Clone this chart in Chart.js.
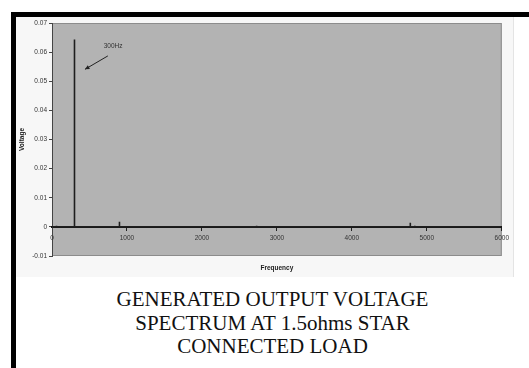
<!DOCTYPE html>
<html>
<head>
<meta charset="utf-8">
<script src="https://cdn.jsdelivr.net/npm/chart.js@4/dist/chart.umd.min.js"></script>
<style>
  html, body { margin: 0; padding: 0; background: #fff; width: 529px; height: 368px; overflow: hidden; }
  #topbar  { position: absolute; left: 11px; top: 12px; width: 518px; height: 5px; background: #000; }
  #leftbar { position: absolute; left: 11px; top: 12px; width: 5px; height: 356px; background: #000; }
  #panel   { position: absolute; left: 16px; top: 17px; width: 497px; height: 260px; background: #f7f7f7; border-right: 1px solid #e4e4e4; }
  #panel canvas { display: block; }
  #caption { position: absolute; left: 16px; width: 513px; top: 288px; text-align: center;
             font-family: "Liberation Serif", "Times New Roman", serif; font-size: 21px; line-height: 23.5px; color: #111; }
</style>
</head>
<body>
<div id="topbar"></div>
<div id="leftbar"></div>
<div id="panel"><canvas id="spectrum" width="497" height="260"></canvas></div>
<div id="caption">GENERATED OUTPUT VOLTAGE<br>SPECTRUM AT 1.5ohms STAR<br>CONNECTED LOAD</div>
<script>
// Harmonic components of the output voltage (Hz, V)
const frequencies = [60, 120, 180, 300, 600, 900, 2130, 2730, 3350, 4780, 4840];
const voltages    = [0.0004, 0.0003, 0.0003, 0.0643, 0.0003, 0.0018, 0.0002, 0.0004, 0.0002, 0.0014, 0.0004];

// Axis ranges and tick labels
const freqTicks = [0, 1000, 2000, 3000, 4000, 5000, 6000];
const voltTicks = [-0.01, 0, 0.01, 0.02, 0.03, 0.04, 0.05, 0.06, 0.07];
const voltTickLabels = ['-0.01', '0', '0.01', '0.02', '0.03', '0.04', '0.05', '0.06', '0.07'];

const xTitle = 'Frequency';
const yTitle = 'Voltage';
const peakLabel = '300Hz';

// Spectrum trace: baseline with a vertical stroke at each component
const trace = [{ x: freqTicks[0], y: 0 }];
frequencies.forEach((f, i) => {
  trace.push({ x: f, y: 0 }, { x: f, y: voltages[i] }, { x: f, y: 0 });
});
trace.push({ x: freqTicks[freqTicks.length - 1], y: 0 });

// Grey plot area with a thin frame
const plotBackground = {
  id: 'plotBackground',
  beforeDraw(chart) {
    const { ctx, chartArea: a } = chart;
    ctx.save();
    ctx.fillStyle = '#b3b3b3';
    ctx.fillRect(a.left, a.top, a.right - a.left, a.bottom - a.top);
    ctx.strokeStyle = '#8c8c8c';
    ctx.lineWidth = 1;
    ctx.strokeRect(a.left + 0.5, a.top + 0.5, a.right - a.left - 1, a.bottom - a.top - 1);
    ctx.restore();
  }
};

// Axis titles and the arrow pointing at the fundamental
const annotations = {
  id: 'annotations',
  afterDraw(chart) {
    const { ctx, chartArea: a, scales: { x, y } } = chart;
    ctx.save();
    ctx.fillStyle = '#222';
    ctx.font = 'bold 6.5px "Liberation Sans", Arial, sans-serif';
    ctx.textAlign = 'center';
    ctx.textBaseline = 'middle';
    ctx.fillText(xTitle, (a.left + a.right) / 2, a.bottom + 12);
    ctx.save();
    ctx.translate(6, (a.top + a.bottom) / 2);
    ctx.rotate(-Math.PI / 2);
    ctx.fillText(yTitle, 0, 0);
    ctx.restore();

    // arrow
    const x0 = x.getPixelForValue(745), y0 = y.getPixelForValue(0.0587);
    const x1 = x.getPixelForValue(440), y1 = y.getPixelForValue(0.0541);
    ctx.strokeStyle = '#222';
    ctx.lineWidth = 1;
    ctx.beginPath();
    ctx.moveTo(x0, y0);
    ctx.lineTo(x1, y1);
    ctx.stroke();
    const ang = Math.atan2(y1 - y0, x1 - x0);
    ctx.beginPath();
    ctx.moveTo(x1, y1);
    ctx.lineTo(x1 - 5 * Math.cos(ang - 0.45), y1 - 5 * Math.sin(ang - 0.45));
    ctx.lineTo(x1 - 5 * Math.cos(ang + 0.45), y1 - 5 * Math.sin(ang + 0.45));
    ctx.closePath();
    ctx.fill();

    ctx.font = '6.5px "Liberation Sans", Arial, sans-serif';
    ctx.fillStyle = '#333';
    ctx.fillText(peakLabel, x.getPixelForValue(815), y.getPixelForValue(0.0620));
    ctx.restore();
  }
};

new Chart(document.getElementById('spectrum'), {
  type: 'scatter',
  data: {
    datasets: [{
      data: trace,
      showLine: true,
      borderColor: '#1e1e1e',
      borderWidth: 1.6,
      pointRadius: 0,
      tension: 0
    }]
  },
  options: {
    responsive: false,
    animation: false,
    events: [],
    layout: { padding: { top: 6, right: 11, bottom: 21, left: 0 } },
    plugins: { legend: { display: false }, tooltip: { enabled: false } },
    scales: {
      x: {
        type: 'linear',
        position: { y: 0 },
        min: freqTicks[0],
        max: freqTicks[freqTicks.length - 1],
        afterBuildTicks(scale) { scale.ticks = freqTicks.map(v => ({ value: v })); },
        ticks: {
          color: '#333',
          font: { size: 6.5, family: '"Liberation Sans", Arial, sans-serif' },
          padding: 4,
          maxRotation: 0,
          autoSkip: false,
          callback: v => String(v)
        },
        grid: { drawOnChartArea: false, tickLength: 3, color: '#222' },
        border: { color: '#111', width: 2 }
      },
      y: {
        min: voltTicks[0],
        max: voltTicks[voltTicks.length - 1],
        afterBuildTicks(scale) { scale.ticks = voltTicks.map(v => ({ value: v })); },
        afterFit(scale) { scale.width = 36; },
        ticks: {
          color: '#333',
          font: { size: 6.5, family: '"Liberation Sans", Arial, sans-serif' },
          padding: 2,
          autoSkip: false,
          callback: (v, i) => voltTickLabels[i]
        },
        grid: { drawOnChartArea: false, tickLength: 3, color: '#444' },
        border: { color: '#444', width: 1 }
      }
    }
  },
  plugins: [plotBackground, annotations]
});
</script>
</body>
</html>
